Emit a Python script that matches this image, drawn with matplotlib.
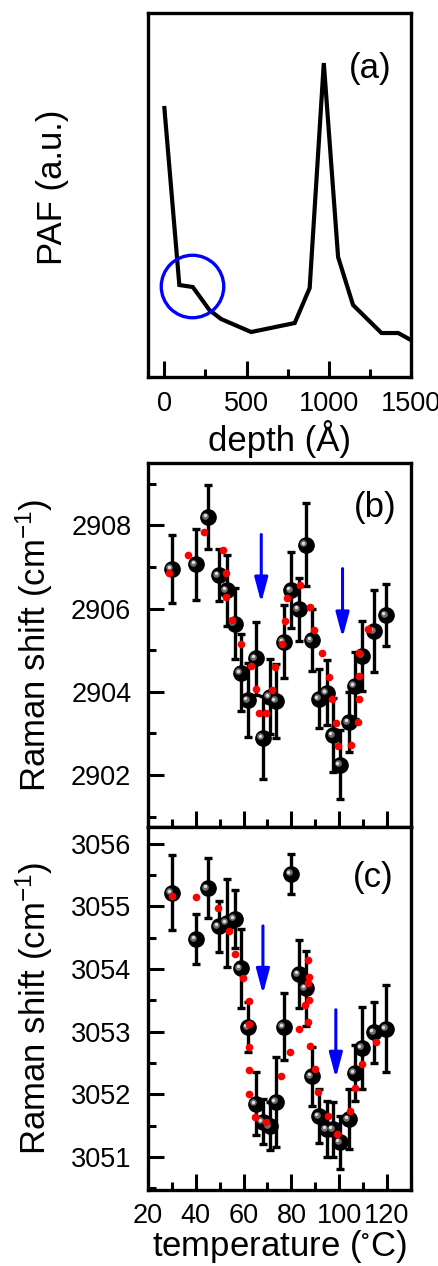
import numpy as np
import matplotlib
matplotlib.use('Agg')
import matplotlib.pyplot as plt
from matplotlib.ticker import MultipleLocator, NullLocator
from matplotlib import transforms

plt.rcParams['font.family'] = ['Liberation Sans', 'DejaVu Sans']
plt.rcParams['mathtext.fontset'] = 'custom'
plt.rcParams['mathtext.rm'] = 'Liberation Sans'
plt.rcParams['mathtext.it'] = 'Liberation Sans:italic'
plt.rcParams['mathtext.default'] = 'regular'

# %% Data
# (a) PAF profile vs depth
depth = [0, 91, 173, 274, 345, 528, 793, 884, 970, 1057, 1148, 1321, 1423, 1500]
paf = [2.69, 0.92, 0.90, 0.67, 0.58, 0.45, 0.54, 0.89, 3.14, 1.20, 0.72, 0.44, 0.44, 0.37]
circle_depth, circle_paf = 169, 0.913

# (b), (c) Raman shift vs temperature
temps = [30, 40, 45, 49.7, 53, 56.3, 58.8, 62, 65, 68, 71, 73.6, 76.8, 79.9, 83,
         86, 88.6, 91.7, 94.9, 97.5, 100.4, 103.9, 106.5, 109.7, 114.7, 119.7]

shift_b = [2906.96, 2907.06, 2908.20, 2906.80, 2906.44, 2905.64, 2904.46, 2903.80,
           2904.80, 2902.90, 2903.88, 2903.78, 2905.20, 2906.44, 2905.98, 2907.54,
           2905.24, 2903.83, 2903.98, 2902.96, 2902.25, 2903.27, 2904.15, 2904.86,
           2905.46, 2905.84]
err_b = [0.82, 0.86, 0.78, 0.62, 0.85, 0.85, 0.93, 0.88, 0.87, 1.00, 0.90, 0.89, 0.88,
         0.91, 0.76, 1.00, 0.75, 0.71, 0.78, 0.89, 0.83, 0.72, 0.80, 0.83, 0.98, 0.74]

fit_t_b = [28.9, 36.8, 43.5, 51.4, 52.8, 52.8, 55.1, 59, 63.2, 65, 66.4, 69.2, 71.9,
           73.3, 76.1, 77.4, 78, 83.75, 87.6, 89.6, 92.8, 95.8, 96.9, 98.6, 99.4,
           105.1, 107.8, 108.3, 108.3, 108.3, 112.2]
fit_b = [2906.85, 2907.28, 2907.84, 2907.41, 2906.85, 2906.29, 2905.72, 2905.16,
         2904.62, 2904.06, 2903.50, 2903.48, 2904.04, 2904.60, 2905.16, 2905.70,
         2906.26, 2906.56, 2906.04, 2905.48, 2904.92, 2904.36, 2903.82, 2903.26,
         2902.70, 2902.72, 2903.27, 2903.83, 2904.38, 2904.94, 2905.50]

shift_c = [3055.22, 3054.48, 3055.29, 3054.68, 3054.74, 3054.80, 3054.01, 3053.07,
           3051.85, 3051.56, 3051.49, 3051.88, 3053.08, 3055.52, 3053.92, 3053.69,
           3052.29, 3051.65, 3051.44, 3051.44, 3051.23, 3051.60, 3052.34, 3052.74,
           3052.99, 3053.05]
err_c = [0.60, 0.40, 0.48, 0.40, 0.70, 0.47, 0.63, 0.40, 0.50, 0.36, 0.38, 0.72, 0.54,
         0.32, 0.55, 0.60, 0.47, 0.43, 0.45, 0.44, 0.43, 0.48, 0.44, 0.65, 0.49, 0.70]

fit_t_c = [30.1, 39.9, 49.3, 53.9, 56.5, 59.7, 62.1, 62.1, 62.1, 62.1, 62.1, 64.6,
           69.4, 75.7, 79.3, 83.3, 86.9, 87.2, 86.8, 87.5, 85.7, 86.8, 87.8, 90,
           91.1, 95.5, 99, 104.4, 106.7, 109.7, 115.3]
fit_c = [3055.16, 3055.15, 3054.97, 3054.61, 3054.24, 3053.86, 3053.49, 3053.12,
         3052.75, 3052.38, 3052.01, 3051.63, 3051.55, 3052.29, 3052.67, 3053.04,
         3054.15, 3053.88, 3053.77, 3053.51, 3053.42, 3053.15, 3052.77, 3052.40,
         3052.03, 3051.65, 3051.36, 3051.73, 3052.10, 3052.48, 3052.84]

# arrows: (temperature, start, end)
arrows_b = [(67.4, 2907.78, 2906.14), (101.4, 2906.96, 2905.30)]
arrows_c = [(68.1, 3054.69, 3053.60), (98.6, 3053.35, 3052.26)]

# %% Figure
fig = plt.figure(figsize=(4.39, 12.66), dpi=100)
ax_a = fig.add_axes([0.337, 0.7022, 0.599, 0.2875])
ax_b = fig.add_axes([0.337, 0.3468, 0.599, 0.2875])
ax_c = fig.add_axes([0.337, 0.0600, 0.599, 0.2868])

lab_fs = 25
tick_fs = 19.5

for ax in (ax_a, ax_b, ax_c):
    for sp in ax.spines.values():
        sp.set_linewidth(2.4)
    ax.tick_params(which='both', direction='in', top=False, right=False,
                   width=2.2, labelsize=tick_fs)
    ax.tick_params(which='major', length=11.5)
    ax.tick_params(which='minor', length=6)
    ax.tick_params(axis='y', pad=12)

# %% (a)
ax_a.plot(depth, paf, '-', color='black', lw=3, solid_joinstyle='miter')
ax_a.plot([circle_depth], [circle_paf], 'o', ms=45, mfc='none', mec='blue', mew=2.4)
ax_a.set_xlim(-100, 1500)
ax_a.set_ylim(0, 3.64)
ax_a.xaxis.set_major_locator(MultipleLocator(500))
ax_a.xaxis.set_minor_locator(MultipleLocator(250))
ax_a.yaxis.set_major_locator(NullLocator())
ax_a.tick_params(axis='x', pad=10)
ax_a.set_xlabel('depth (Å)', fontsize=lab_fs)
ax_a.xaxis.set_label_coords(0.5, -0.118)
ax_a.set_ylabel('PAF (a.u.)', fontsize=lab_fs)
ax_a.yaxis.set_label_coords(-0.30, 0.52)
ax_a.text(0.844, 0.849, '(a)', transform=ax_a.transAxes, fontsize=lab_fs,
          ha='center', va='center')


def raman_panel(ax, shift, err, fit_t, fit, arrows, letter, lpos):
    ax.errorbar(temps, shift, yerr=err, fmt='none', ecolor='black', elinewidth=2.4,
                capsize=3.2, capthick=2.4, zorder=2)
    ax.plot(temps, shift, 'o', ms=11, color='black', zorder=3)
    hl1 = transforms.offset_copy(ax.transData, fig=fig, x=-2.5, y=1.5, units='dots')
    hl2 = transforms.offset_copy(ax.transData, fig=fig, x=-3, y=2, units='dots')
    ax.plot(temps, shift, 'o', ms=4.8, color='#6e6e6e', mew=0, transform=hl1, zorder=4)
    ax.plot(temps, shift, 'o', ms=2.4, color='#e0e0e0', mew=0, transform=hl2, zorder=4)
    ax.plot(fit_t, fit, 'o', ms=5.5, color='#ff0000', mew=0, zorder=5)
    for t, y0, y1 in arrows:
        ax.annotate('', xy=(t, y1), xytext=(t, y0),
                    arrowprops=dict(arrowstyle='-|>,head_length=0.75,head_width=0.2',
                                    color='blue', lw=2.2, mutation_scale=20,
                                    shrinkA=0, shrinkB=0), zorder=6)
    ax.set_xlim(20, 130)
    ax.xaxis.set_major_locator(MultipleLocator(20))
    ax.xaxis.set_minor_locator(MultipleLocator(10))
    ax.tick_params(axis='x', pad=9)
    ax.set_ylabel('Raman shift (cm$^{-1}$)', fontsize=lab_fs)
    ax.yaxis.set_label_coords(-0.355, 0.5)
    ax.yaxis.get_major_formatter().set_useOffset(False)
    ax.text(lpos[0], lpos[1], letter, transform=ax.transAxes, fontsize=lab_fs,
            ha='center', va='center')


# %% (b)
raman_panel(ax_b, shift_b, err_b, fit_t_b, fit_b, arrows_b, '(b)', (0.863, 0.879))
ax_b.set_ylim(2900.75, 2909.5)
ax_b.yaxis.set_major_locator(MultipleLocator(2))
ax_b.yaxis.set_minor_locator(MultipleLocator(1))
ax_b.tick_params(axis='x', labelbottom=False)

# %% (c)
raman_panel(ax_c, shift_c, err_c, fit_t_c, fit_c, arrows_c, '(c)', (0.856, 0.862))
ax_c.set_ylim(3050.47, 3056.27)
ax_c.yaxis.set_major_locator(MultipleLocator(1))
ax_c.yaxis.set_minor_locator(MultipleLocator(0.5))
ax_c.set_xlabel('temperature ($^{\\circ}$C)', fontsize=lab_fs)
ax_c.xaxis.set_label_coords(0.5, -0.105)

# keep the last depth label inside the figure
fig.canvas.draw()
last = ax_a.get_xticklabels()[-1]
last.set_transform(last.get_transform() + transforms.ScaledTranslation(-3 / 72, 0, fig.dpi_scale_trans))

# %% Save
fig.savefig('out.png', dpi=100)
